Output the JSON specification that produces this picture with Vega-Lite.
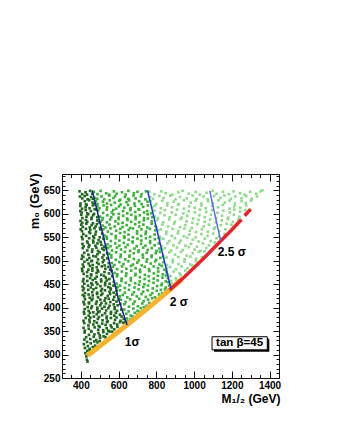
{
"$schema": "https://vega.github.io/schema/vega-lite/v6.json",
"width": 217, "height": 204,
"autosize": {"type": "none"},
"padding": {"left": 62, "top": 174, "right": 58, "bottom": 58},
"background": "white",
"config": {"view": {"stroke": null}, "font": "Liberation Sans"},
"resolve": {"axis": {"x": "independent", "y": "independent"}},
"datasets": {
"dark": [
{"x":393,"y":648},{"x":407,"y":642},{"x":425,"y":646},{"x":433,"y":641},{"x":449,"y":649},{"x":461,"y":643},
{"x":395,"y":637},{"x":407,"y":633},{"x":420,"y":638},{"x":436,"y":631},{"x":454,"y":636},{"x":463,"y":632},
{"x":398,"y":622},{"x":421,"y":627},{"x":427,"y":620},{"x":444,"y":629},{"x":462,"y":624},{"x":474,"y":621},
{"x":397,"y":617},{"x":406,"y":611},{"x":425,"y":614},{"x":431,"y":619},{"x":446,"y":612},{"x":464,"y":618},{"x":473,"y":610},
{"x":397,"y":606},{"x":404,"y":603},{"x":426,"y":608},{"x":434,"y":601},{"x":453,"y":606},{"x":470,"y":600},{"x":482,"y":609},
{"x":402,"y":598},{"x":408,"y":591},{"x":430,"y":594},{"x":439,"y":599},{"x":457,"y":592},{"x":465,"y":597},{"x":487,"y":593},
{"x":398,"y":585},{"x":407,"y":581},{"x":427,"y":587},{"x":434,"y":583},{"x":456,"y":589},{"x":464,"y":580},{"x":487,"y":586},{"x":498,"y":582},
{"x":402,"y":577},{"x":410,"y":572},{"x":429,"y":579},{"x":447,"y":571},{"x":457,"y":576},{"x":478,"y":573},{"x":485,"y":578},{"x":501,"y":570},
{"x":399,"y":567},{"x":406,"y":563},{"x":427,"y":568},{"x":444,"y":561},{"x":450,"y":566},{"x":472,"y":569},{"x":480,"y":562},{"x":503,"y":567},
{"x":405,"y":551},{"x":413,"y":557},{"x":428,"y":553},{"x":449,"y":559},{"x":466,"y":552},{"x":477,"y":556},{"x":500,"y":550},{"x":513,"y":558},
{"x":409,"y":546},{"x":433,"y":541},{"x":444,"y":548},{"x":465,"y":543},{"x":470,"y":549},{"x":494,"y":544},{"x":505,"y":540},{"x":520,"y":547},
{"x":408,"y":536},{"x":415,"y":531},{"x":437,"y":538},{"x":445,"y":533},{"x":466,"y":539},{"x":477,"y":532},{"x":488,"y":537},{"x":509,"y":534},{"x":524,"y":530},
{"x":410,"y":527},{"x":434,"y":522},{"x":441,"y":529},{"x":461,"y":524},{"x":482,"y":528},{"x":491,"y":521},{"x":513,"y":526},{"x":522,"y":523},{"x":534,"y":528},
{"x":407,"y":511},{"x":418,"y":517},{"x":440,"y":513},{"x":459,"y":519},{"x":466,"y":510},{"x":488,"y":514},{"x":499,"y":518},{"x":521,"y":512},{"x":539,"y":516},
{"x":404,"y":504},{"x":413,"y":508},{"x":434,"y":502},{"x":445,"y":506},{"x":459,"y":500},{"x":480,"y":509},{"x":491,"y":503},{"x":514,"y":507},{"x":522,"y":501},{"x":540,"y":505},
{"x":410,"y":492},{"x":419,"y":498},{"x":441,"y":494},{"x":455,"y":499},{"x":463,"y":491},{"x":486,"y":496},{"x":494,"y":493},{"x":516,"y":497},{"x":526,"y":490},{"x":548,"y":495},
{"x":406,"y":483},{"x":415,"y":487},{"x":440,"y":481},{"x":448,"y":489},{"x":461,"y":484},{"x":484,"y":486},{"x":489,"y":480},{"x":511,"y":488},{"x":530,"y":483},{"x":546,"y":487},{"x":555,"y":481},
{"x":408,"y":478},{"x":415,"y":472},{"x":433,"y":476},{"x":454,"y":471},{"x":461,"y":479},{"x":483,"y":474},{"x":492,"y":477},{"x":508,"y":470},{"x":525,"y":476},{"x":549,"y":473},{"x":563,"y":479},
{"x":414,"y":461},{"x":433,"y":467},{"x":449,"y":463},{"x":455,"y":469},{"x":476,"y":462},{"x":484,"y":466},{"x":507,"y":460},{"x":523,"y":468},{"x":532,"y":464},{"x":551,"y":461},{"x":566,"y":467},
{"x":411,"y":456},{"x":418,"y":451},{"x":434,"y":457},{"x":455,"y":452},{"x":463,"y":459},{"x":481,"y":454},{"x":488,"y":450},{"x":508,"y":456},{"x":529,"y":453},{"x":537,"y":458},{"x":553,"y":451},{"x":575,"y":455},
{"x":409,"y":445},{"x":416,"y":441},{"x":438,"y":447},{"x":453,"y":443},{"x":461,"y":449},{"x":481,"y":442},{"x":504,"y":446},{"x":512,"y":440},{"x":528,"y":448},{"x":545,"y":444},{"x":556,"y":442},{"x":573,"y":447},{"x":588,"y":443},
{"x":411,"y":437},{"x":422,"y":431},{"x":439,"y":438},{"x":460,"y":433},{"x":467,"y":439},{"x":486,"y":432},{"x":507,"y":436},{"x":514,"y":430},{"x":528,"y":437},{"x":552,"y":434},{"x":559,"y":439},{"x":574,"y":432},{"x":589,"y":436},
{"x":410,"y":427},{"x":418,"y":424},{"x":441,"y":428},{"x":447,"y":421},{"x":463,"y":426},{"x":486,"y":429},{"x":491,"y":422},{"x":508,"y":427},{"x":530,"y":420},{"x":542,"y":425},{"x":555,"y":429},{"x":577,"y":423},{"x":589,"y":428},
{"x":414,"y":412},{"x":422,"y":418},{"x":443,"y":411},{"x":457,"y":416},{"x":462,"y":419},{"x":484,"y":413},{"x":503,"y":417},{"x":509,"y":410},{"x":526,"y":415},{"x":548,"y":419},{"x":556,"y":412},{"x":572,"y":417},{"x":589,"y":413},{"x":601,"y":418},
{"x":418,"y":407},{"x":436,"y":401},{"x":443,"y":409},{"x":459,"y":403},{"x":480,"y":408},{"x":487,"y":400},{"x":503,"y":405},{"x":525,"y":402},{"x":533,"y":409},{"x":552,"y":404},{"x":574,"y":407},{"x":579,"y":401},{"x":595,"y":405},{"x":609,"y":408},
{"x":416,"y":391},{"x":420,"y":397},{"x":441,"y":393},{"x":455,"y":399},{"x":466,"y":390},{"x":487,"y":396},{"x":499,"y":392},{"x":512,"y":398},{"x":534,"y":394},{"x":546,"y":399},{"x":560,"y":391},{"x":579,"y":397},{"x":592,"y":393},{"x":614,"y":396},
{"x":418,"y":387},{"x":441,"y":383},{"x":448,"y":389},{"x":469,"y":381},{"x":484,"y":386},{"x":491,"y":390},{"x":513,"y":384},{"x":528,"y":388},{"x":537,"y":381},{"x":559,"y":387},{"x":577,"y":383},{"x":585,"y":389},{"x":607,"y":385},{"x":616,"y":381},
{"x":414,"y":372},{"x":426,"y":378},{"x":445,"y":374},{"x":450,"y":379},{"x":471,"y":371},{"x":490,"y":376},{"x":496,"y":380},{"x":515,"y":373},{"x":537,"y":377},{"x":542,"y":371},{"x":559,"y":378},{"x":581,"y":374},{"x":589,"y":379},{"x":610,"y":372},{"x":627,"y":376},
{"x":418,"y":367},{"x":440,"y":362},{"x":447,"y":369},{"x":466,"y":364},{"x":485,"y":368},{"x":494,"y":361},{"x":513,"y":366},{"x":531,"y":363},{"x":538,"y":369},{"x":558,"y":362},{"x":576,"y":367},{"x":592,"y":364},{"x":607,"y":369},{"x":625,"y":368},{"x":636,"y":370},
{"x":414,"y":357},{"x":421,"y":351},{"x":442,"y":355},{"x":455,"y":350},{"x":473,"y":358},{"x":492,"y":353},{"x":500,"y":359},{"x":518,"y":352},{"x":537,"y":356},{"x":545,"y":351},{"x":563,"y":358},{"x":577,"y":354},{"x":594,"y":359},
{"x":420,"y":347},{"x":443,"y":342},{"x":455,"y":349},{"x":472,"y":343},{"x":493,"y":346},{"x":500,"y":341},{"x":519,"y":348},{"x":538,"y":344},{"x":552,"y":349},{"x":566,"y":349},
{"x":419,"y":332},{"x":428,"y":337},{"x":450,"y":333},{"x":468,"y":338},{"x":481,"y":331},{"x":502,"y":336},{"x":520,"y":339},{"x":530,"y":337},
{"x":416,"y":322},{"x":433,"y":327},{"x":452,"y":324},{"x":471,"y":328},{"x":488,"y":326},{"x":500,"y":329},
{"x":421,"y":314},{"x":437,"y":318},{"x":447,"y":312},{"x":463,"y":316},{"x":476,"y":319},
{"x":424,"y":303},{"x":434,"y":308},{"x":446,"y":310},
{"x":429,"y":296},{"x":432,"y":289},{"x":435,"y":285}
],
"green": [
{"x":469,"y":647},{"x":488,"y":642},{"x":505,"y":649},{"x":534,"y":644},{"x":549,"y":641},{"x":575,"y":648},{"x":590,"y":643},{"x":618,"y":646},{"x":637,"y":641},{"x":652,"y":649},{"x":681,"y":644},{"x":700,"y":647},{"x":722,"y":642},{"x":745,"y":648},
{"x":474,"y":634},{"x":487,"y":632},{"x":510,"y":637},{"x":524,"y":631},{"x":551,"y":639},{"x":573,"y":634},{"x":582,"y":638},{"x":609,"y":630},{"x":634,"y":636},{"x":652,"y":632},{"x":679,"y":639},{"x":690,"y":633},{"x":718,"y":637},{"x":742,"y":631},
{"x":480,"y":627},{"x":488,"y":621},{"x":517,"y":626},{"x":538,"y":622},{"x":553,"y":629},{"x":580,"y":624},{"x":604,"y":628},{"x":611,"y":620},{"x":642,"y":625},{"x":656,"y":629},{"x":684,"y":622},{"x":709,"y":627},{"x":722,"y":621},{"x":753,"y":626},
{"x":488,"y":616},{"x":499,"y":612},{"x":520,"y":618},{"x":539,"y":614},{"x":560,"y":619},{"x":587,"y":611},{"x":602,"y":616},{"x":630,"y":613},{"x":650,"y":619},{"x":664,"y":612},{"x":687,"y":617},{"x":706,"y":610},{"x":730,"y":615},{"x":755,"y":618},
{"x":492,"y":607},{"x":518,"y":602},{"x":537,"y":609},{"x":564,"y":603},{"x":572,"y":608},{"x":601,"y":600},{"x":624,"y":606},{"x":646,"y":601},{"x":662,"y":608},{"x":688,"y":604},{"x":709,"y":609},{"x":735,"y":603},{"x":751,"y":606},{"x":772,"y":601},
{"x":502,"y":594},{"x":516,"y":591},{"x":540,"y":597},{"x":561,"y":593},{"x":572,"y":599},{"x":600,"y":592},{"x":624,"y":596},{"x":645,"y":590},{"x":667,"y":598},{"x":690,"y":594},{"x":712,"y":597},{"x":735,"y":591},{"x":754,"y":599},{"x":779,"y":593},
{"x":504,"y":583},{"x":513,"y":587},{"x":538,"y":582},{"x":555,"y":588},{"x":583,"y":584},{"x":600,"y":589},{"x":621,"y":581},{"x":647,"y":587},{"x":666,"y":583},{"x":690,"y":589},{"x":709,"y":582},{"x":734,"y":586},{"x":755,"y":590},{"x":776,"y":584},
{"x":516,"y":575},{"x":530,"y":571},{"x":552,"y":577},{"x":579,"y":573},{"x":598,"y":579},{"x":621,"y":572},{"x":643,"y":576},{"x":661,"y":570},{"x":688,"y":578},{"x":709,"y":573},{"x":731,"y":577},{"x":752,"y":571},{"x":775,"y":579},{"x":795,"y":574},
{"x":519,"y":567},{"x":543,"y":562},{"x":557,"y":569},{"x":587,"y":564},{"x":609,"y":568},{"x":632,"y":561},{"x":653,"y":566},{"x":676,"y":569},{"x":698,"y":563},{"x":721,"y":567},{"x":745,"y":562},{"x":766,"y":568},{"x":795,"y":565},
{"x":525,"y":554},{"x":537,"y":551},{"x":562,"y":557},{"x":585,"y":553},{"x":608,"y":559},{"x":629,"y":552},{"x":652,"y":556},{"x":676,"y":550},{"x":698,"y":558},{"x":719,"y":553},{"x":743,"y":557},{"x":767,"y":551},{"x":791,"y":556},
{"x":538,"y":547},{"x":559,"y":542},{"x":585,"y":548},{"x":604,"y":543},{"x":631,"y":549},{"x":653,"y":545},{"x":674,"y":541},{"x":700,"y":547},{"x":720,"y":543},{"x":745,"y":548},{"x":767,"y":542},{"x":792,"y":546},{"x":812,"y":549},
{"x":541,"y":535},{"x":557,"y":531},{"x":582,"y":537},{"x":604,"y":532},{"x":628,"y":538},{"x":649,"y":534},{"x":675,"y":539},{"x":696,"y":531},{"x":719,"y":536},{"x":742,"y":532},{"x":767,"y":538},{"x":791,"y":533},{"x":813,"y":537},
{"x":544,"y":527},{"x":565,"y":522},{"x":591,"y":528},{"x":613,"y":524},{"x":637,"y":529},{"x":661,"y":521},{"x":684,"y":526},{"x":706,"y":522},{"x":730,"y":528},{"x":754,"y":523},{"x":776,"y":527},{"x":801,"y":521},{"x":817,"y":526},
{"x":550,"y":515},{"x":561,"y":512},{"x":587,"y":518},{"x":612,"y":513},{"x":633,"y":519},{"x":659,"y":511},{"x":680,"y":516},{"x":705,"y":519},{"x":728,"y":513},{"x":749,"y":517},{"x":775,"y":511},{"x":797,"y":516},{"x":819,"y":519},
{"x":561,"y":507},{"x":585,"y":502},{"x":610,"y":508},{"x":635,"y":503},{"x":657,"y":509},{"x":681,"y":504},{"x":707,"y":501},{"x":729,"y":507},{"x":751,"y":503},{"x":775,"y":508},{"x":799,"y":502},{"x":821,"y":506},{"x":835,"y":509},
{"x":564,"y":495},{"x":578,"y":491},{"x":604,"y":497},{"x":626,"y":493},{"x":652,"y":499},{"x":676,"y":492},{"x":699,"y":496},{"x":723,"y":490},{"x":748,"y":498},{"x":770,"y":494},{"x":794,"y":499},{"x":816,"y":492},{"x":838,"y":497},
{"x":569,"y":487},{"x":592,"y":482},{"x":618,"y":488},{"x":641,"y":483},{"x":666,"y":489},{"x":690,"y":484},{"x":713,"y":481},{"x":739,"y":487},{"x":761,"y":482},{"x":786,"y":488},{"x":809,"y":484},{"x":829,"y":489},{"x":843,"y":481},
{"x":578,"y":474},{"x":593,"y":471},{"x":617,"y":477},{"x":641,"y":473},{"x":667,"y":479},{"x":690,"y":472},{"x":715,"y":476},{"x":739,"y":470},{"x":763,"y":478},{"x":787,"y":473},{"x":810,"y":477},{"x":834,"y":471},{"x":854,"y":476},
{"x":591,"y":467},{"x":616,"y":462},{"x":639,"y":468},{"x":665,"y":463},{"x":688,"y":469},{"x":713,"y":465},{"x":738,"y":461},{"x":760,"y":467},{"x":786,"y":462},{"x":808,"y":468},{"x":832,"y":464},{"x":851,"y":469},{"x":861,"y":463},
{"x":590,"y":451},{"x":615,"y":457},{"x":638,"y":453},{"x":665,"y":458},{"x":688,"y":452},{"x":712,"y":456},{"x":737,"y":450},{"x":761,"y":457},{"x":785,"y":453},{"x":807,"y":458},{"x":830,"y":451},{"x":850,"y":456},{"x":864,"y":454},
{"x":596,"y":444},{"x":608,"y":447},{"x":633,"y":442},{"x":657,"y":448},{"x":684,"y":443},{"x":708,"y":449},{"x":731,"y":444},{"x":756,"y":447},{"x":781,"y":441},{"x":804,"y":446},{"x":827,"y":448},{"x":850,"y":443},{"x":869,"y":447},
{"x":607,"y":437},{"x":633,"y":432},{"x":655,"y":438},{"x":681,"y":433},{"x":706,"y":439},{"x":730,"y":434},{"x":754,"y":437},{"x":779,"y":431},{"x":802,"y":436},{"x":824,"y":438},{"x":846,"y":439},
{"x":606,"y":424},{"x":622,"y":427},{"x":646,"y":422},{"x":673,"y":428},{"x":696,"y":424},{"x":721,"y":429},{"x":744,"y":423},{"x":769,"y":427},{"x":793,"y":422},{"x":814,"y":428},{"x":831,"y":431},
{"x":612,"y":417},{"x":637,"y":412},{"x":661,"y":418},{"x":685,"y":413},{"x":709,"y":419},{"x":733,"y":414},{"x":756,"y":417},{"x":778,"y":420},
{"x":631,"y":407},{"x":655,"y":402},{"x":678,"y":408},{"x":702,"y":403},{"x":726,"y":409},{"x":748,"y":404},{"x":763,"y":410},
{"x":630,"y":396},{"x":653,"y":392},{"x":678,"y":398},{"x":700,"y":393},{"x":718,"y":399},{"x":734,"y":401},
{"x":641,"y":387},{"x":664,"y":383},{"x":686,"y":389},{"x":701,"y":386},{"x":712,"y":391},
{"x":645,"y":377},{"x":663,"y":375},{"x":674,"y":381},
{"x":644,"y":368},{"x":652,"y":371}
],
"light": [
{"x":763,"y":647},{"x":790,"y":642},{"x":826,"y":648},{"x":849,"y":644},{"x":884,"y":641},{"x":917,"y":646},{"x":939,"y":649},{"x":972,"y":643},{"x":1008,"y":647},{"x":1030,"y":641},{"x":1066,"y":645},{"x":1098,"y":649},{"x":1119,"y":643},{"x":1153,"y":647},{"x":1184,"y":642},{"x":1209,"y":648},{"x":1244,"y":644},{"x":1268,"y":641},{"x":1297,"y":647},{"x":1330,"y":643},{"x":1352,"y":648},{"x":1362,"y":650},
{"x":767,"y":636},{"x":783,"y":632},{"x":816,"y":638},{"x":838,"y":634},{"x":874,"y":639},{"x":902,"y":631},{"x":925,"y":636},{"x":961,"y":633},{"x":992,"y":639},{"x":1013,"y":632},{"x":1050,"y":637},{"x":1072,"y":631},{"x":1106,"y":638},{"x":1140,"y":634},{"x":1161,"y":639},{"x":1195,"y":632},{"x":1218,"y":637},{"x":1251,"y":633},{"x":1277,"y":638},{"x":1306,"y":632},{"x":1333,"y":637},
{"x":770,"y":627},{"x":799,"y":621},{"x":832,"y":628},{"x":859,"y":623},{"x":892,"y":626},{"x":919,"y":621},{"x":946,"y":629},{"x":982,"y":624},{"x":1008,"y":628},{"x":1039,"y":622},{"x":1074,"y":627},{"x":1098,"y":623},{"x":1129,"y":629},{"x":1163,"y":624},{"x":1188,"y":628},{"x":1217,"y":622},{"x":1252,"y":627},{"x":1274,"y":623},{"x":1302,"y":628},
{"x":778,"y":614},{"x":792,"y":617},{"x":824,"y":612},{"x":857,"y":618},{"x":883,"y":614},{"x":915,"y":619},{"x":946,"y":611},{"x":974,"y":616},{"x":1003,"y":613},{"x":1038,"y":618},{"x":1062,"y":612},{"x":1096,"y":617},{"x":1127,"y":614},{"x":1152,"y":619},{"x":1188,"y":611},{"x":1213,"y":616},{"x":1245,"y":613},{"x":1276,"y":618},
{"x":789,"y":607},{"x":821,"y":602},{"x":845,"y":608},{"x":882,"y":603},{"x":909,"y":609},{"x":943,"y":601},{"x":972,"y":606},{"x":1004,"y":603},{"x":1031,"y":609},{"x":1064,"y":604},{"x":1095,"y":608},{"x":1124,"y":602},{"x":1155,"y":607},{"x":1189,"y":603},{"x":1213,"y":609},{"x":1244,"y":605},{"x":1272,"y":608},
{"x":792,"y":594},{"x":809,"y":591},{"x":843,"y":597},{"x":871,"y":593},{"x":902,"y":598},{"x":935,"y":592},{"x":964,"y":596},{"x":995,"y":590},{"x":1028,"y":597},{"x":1056,"y":593},{"x":1089,"y":598},{"x":1117,"y":591},{"x":1148,"y":596},{"x":1181,"y":592},{"x":1211,"y":598},{"x":1240,"y":594},
{"x":804,"y":587},{"x":836,"y":582},{"x":868,"y":588},{"x":898,"y":583},{"x":929,"y":589},{"x":960,"y":584},{"x":991,"y":581},{"x":1023,"y":587},{"x":1056,"y":583},{"x":1085,"y":588},{"x":1115,"y":582},{"x":1147,"y":586},{"x":1178,"y":589},{"x":1206,"y":583},{"x":1235,"y":588},
{"x":801,"y":571},{"x":832,"y":577},{"x":862,"y":573},{"x":894,"y":579},{"x":925,"y":572},{"x":954,"y":576},{"x":987,"y":570},{"x":1017,"y":578},{"x":1051,"y":573},{"x":1079,"y":577},{"x":1111,"y":571},{"x":1142,"y":576},{"x":1173,"y":579},{"x":1198,"y":577},
{"x":810,"y":565},{"x":824,"y":567},{"x":853,"y":562},{"x":886,"y":568},{"x":917,"y":563},{"x":949,"y":569},{"x":978,"y":564},{"x":1010,"y":561},{"x":1041,"y":567},{"x":1073,"y":562},{"x":1105,"y":568},{"x":1134,"y":563},{"x":1166,"y":567},
{"x":820,"y":551},{"x":852,"y":557},{"x":882,"y":553},{"x":914,"y":558},{"x":946,"y":552},{"x":975,"y":556},{"x":1008,"y":550},{"x":1039,"y":557},{"x":1071,"y":553},{"x":1101,"y":558},{"x":1133,"y":552},{"x":1162,"y":557},
{"x":821,"y":546},{"x":837,"y":547},{"x":869,"y":542},{"x":899,"y":548},{"x":930,"y":543},{"x":963,"y":549},{"x":993,"y":545},{"x":1024,"y":541},{"x":1057,"y":547},{"x":1088,"y":542},{"x":1119,"y":548},
{"x":828,"y":531},{"x":859,"y":537},{"x":890,"y":533},{"x":922,"y":538},{"x":954,"y":532},{"x":984,"y":536},{"x":1015,"y":530},{"x":1047,"y":537},{"x":1079,"y":533},{"x":1109,"y":539},
{"x":831,"y":524},{"x":846,"y":527},{"x":878,"y":522},{"x":909,"y":528},{"x":940,"y":523},{"x":972,"y":529},{"x":1003,"y":524},{"x":1034,"y":521},{"x":1065,"y":527},
{"x":836,"y":512},{"x":868,"y":518},{"x":899,"y":513},{"x":931,"y":519},{"x":961,"y":511},{"x":993,"y":516},{"x":1025,"y":519},{"x":1055,"y":520},
{"x":841,"y":506},{"x":855,"y":507},{"x":887,"y":502},{"x":917,"y":508},{"x":950,"y":503},{"x":980,"y":509},{"x":1011,"y":504},{"x":1042,"y":508},
{"x":856,"y":491},{"x":887,"y":497},{"x":917,"y":493},{"x":949,"y":498},{"x":980,"y":492},{"x":1010,"y":499},
{"x":857,"y":484},{"x":873,"y":487},{"x":904,"y":482},{"x":934,"y":488},{"x":965,"y":484},{"x":990,"y":490},
{"x":861,"y":471},{"x":892,"y":477},{"x":923,"y":473},{"x":953,"y":479},
{"x":874,"y":467},{"x":903,"y":463},{"x":929,"y":469},
{"x":879,"y":457},{"x":905,"y":460},
{"x":881,"y":451}
],
"orange": [
{"x":436,"y":298},{"x":500,"y":318},{"x":600,"y":349},{"x":700,"y":381},{"x":800,"y":414},{"x":877,"y":440},{"x":935,"y":461}
],
"red": [
{"s":"a","x":870,"y":437.6},{"s":"a","x":950,"y":466},{"s":"a","x":1050,"y":505},{"s":"a","x":1141,"y":542},{"s":"a","x":1200,"y":566},{"s":"a","x":1251,"y":588},
{"s":"b","x":1268,"y":596},{"s":"b","x":1300,"y":610}
],
"sigma": [
{"s":"1","x":460,"y":650},{"s":"1","x":598,"y":420},{"s":"1","x":645,"y":363},
{"s":"2","x":753,"y":650},{"s":"2","x":877,"y":441},
{"s":"2.5","x":1083,"y":649},{"s":"2.5","x":1141,"y":542}
],
"labels": [
{"x":633,"y":327,"t":"1σ"},{"x":871,"y":413,"t":"2 σ"},{"x":1125,"y":519,"t":"2.5 σ"}
],
"box": [
{"x":1095,"x2":1388,"y":310,"y2":338,"xc":1241,"yc":324,"t":"tan β=45"}
]
},
"layer": [
{"data": {"name": "dark"},
 "mark": {"type": "square", "size": 7, "color": "#1f6a1d", "opacity": 1, "strokeWidth": 0},
 "encoding": {
  "x": {"field": "x", "type": "quantitative", "scale": {"domain": [300, 1450], "nice": false, "zero": false},
   "axis": {"orient": "bottom", "values": [400, 600, 800, 1000, 1200, 1400], "format": "d", "grid": false, "domain": true, "domainColor": "#111", "domainWidth": 1, "ticks": true, "tickSize": -7, "tickColor": "#111", "tickWidth": 1, "labels": true, "labelPadding": 9, "labelFont": "Liberation Sans", "labelFontSize": 10, "labelFontWeight": "bold", "labelColor": "#000", "labelFlush": false, "labelOverlap": false, "labelBaseline": "top", "title": "M₁/₂ (GeV)", "titleFont": "Liberation Sans", "titleFontSize": 12, "titleFontWeight": "bold", "titleColor": "#000", "titleX": 218, "titleY": 24, "titleAlign": "right", "titleBaseline": "alphabetic", "titleAnchor": "end"}},
  "y": {"field": "y", "type": "quantitative", "scale": {"domain": [250, 685], "nice": false, "zero": false},
   "axis": {"orient": "left", "values": [250, 300, 350, 400, 450, 500, 550, 600, 650], "format": "d", "grid": false, "domain": true, "domainColor": "#111", "domainWidth": 1, "ticks": true, "tickSize": -6, "tickColor": "#111", "tickWidth": 1, "labels": true, "labelPadding": 8, "labelFont": "Liberation Sans", "labelFontSize": 10, "labelFontWeight": "bold", "labelColor": "#000", "labelFlush": false, "labelOverlap": false, "labelAlign": "right", "labelBaseline": "middle", "title": "m₀ (GeV)", "titleFont": "Liberation Sans", "titleFontSize": 13, "titleFontWeight": "bold", "titleColor": "#000", "titleAngle": -90, "titleX": -24, "titleY": -1, "titleAlign": "right", "titleBaseline": "alphabetic", "titleAnchor": "end"}}
 }},
{"data": {"name": "green"},
 "mark": {"type": "square", "size": 7, "color": "#3cb43a", "opacity": 1, "strokeWidth": 0},
 "encoding": {
  "x": {"field": "x", "type": "quantitative", "scale": {"domain": [300, 1450], "nice": false, "zero": false},
   "axis": {"orient": "bottom", "values": [300,350,400,450,500,550,600,650,700,750,800,850,900,950,1000,1050,1100,1150,1200,1250,1300,1350,1400,1450], "grid": false, "domain": false, "labels": false, "ticks": true, "tickSize": -3.5, "tickColor": "#111", "tickWidth": 1, "title": null}},
  "y": {"field": "y", "type": "quantitative", "scale": {"domain": [250, 685], "nice": false, "zero": false},
   "axis": {"orient": "left", "values": [250,260,270,280,290,300,310,320,330,340,350,360,370,380,390,400,410,420,430,440,450,460,470,480,490,500,510,520,530,540,550,560,570,580,590,600,610,620,630,640,650,660,670,680], "grid": false, "domain": false, "labels": false, "ticks": true, "tickSize": -3, "tickColor": "#111", "tickWidth": 1, "title": null}}
 }},
{"data": {"name": "light"},
 "mark": {"type": "square", "size": 7, "color": "#8fdc8a", "opacity": 1, "strokeWidth": 0},
 "encoding": {
  "x": {"field": "x", "type": "quantitative", "scale": {"domain": [300, 1450], "nice": false, "zero": false},
   "axis": {"orient": "top", "values": [400, 600, 800, 1000, 1200, 1400], "grid": false, "domain": true, "domainColor": "#111", "domainWidth": 1, "labels": false, "ticks": true, "tickSize": -7, "tickColor": "#111", "tickWidth": 1, "title": null}},
  "y": {"field": "y", "type": "quantitative", "scale": {"domain": [250, 685], "nice": false, "zero": false},
   "axis": {"orient": "right", "values": [250, 300, 350, 400, 450, 500, 550, 600, 650], "grid": false, "domain": true, "domainColor": "#111", "domainWidth": 1, "labels": false, "ticks": true, "tickSize": -6, "tickColor": "#111", "tickWidth": 1, "title": null}}
 }},
{"data": {"name": "orange"},
 "mark": {"type": "line", "color": "#f8b22c", "strokeWidth": 5, "strokeCap": "butt"},
 "encoding": {
  "x": {"field": "x", "type": "quantitative", "scale": {"domain": [300, 1450], "nice": false, "zero": false},
   "axis": {"orient": "top", "values": [300,350,400,450,500,550,600,650,700,750,800,850,900,950,1000,1050,1100,1150,1200,1250,1300,1350,1400,1450], "grid": false, "domain": false, "labels": false, "ticks": true, "tickSize": -3.5, "tickColor": "#111", "tickWidth": 1, "title": null}},
  "y": {"field": "y", "type": "quantitative", "scale": {"domain": [250, 685], "nice": false, "zero": false},
   "axis": {"orient": "right", "values": [250,260,270,280,290,300,310,320,330,340,350,360,370,380,390,400,410,420,430,440,450,460,470,480,490,500,510,520,530,540,550,560,570,580,590,600,610,620,630,640,650,660,670,680], "grid": false, "domain": false, "labels": false, "ticks": true, "tickSize": -3, "tickColor": "#111", "tickWidth": 1, "title": null}}
 }},
{"data": {"name": "red"},
 "mark": {"type": "line", "color": "#e8232a", "strokeWidth": 3.5, "strokeCap": "butt"},
 "encoding": {
  "x": {"field": "x", "type": "quantitative", "scale": {"domain": [300, 1450], "nice": false, "zero": false}, "axis": null},
  "y": {"field": "y", "type": "quantitative", "scale": {"domain": [250, 685], "nice": false, "zero": false}, "axis": null},
  "detail": {"field": "s", "type": "nominal"}
 }},
{"data": {"name": "sigma"},
 "mark": {"type": "line", "strokeWidth": 1.5},
 "encoding": {
  "x": {"field": "x", "type": "quantitative", "scale": {"domain": [300, 1450], "nice": false, "zero": false}, "axis": null},
  "y": {"field": "y", "type": "quantitative", "scale": {"domain": [250, 685], "nice": false, "zero": false}, "axis": null},
  "color": {"field": "s", "type": "nominal", "scale": {"domain": ["1", "2", "2.5"], "range": ["#1a1f9c", "#1f35e6", "#5b6ef2"]}, "legend": null}
 }},
{"data": {"name": "labels"},
 "mark": {"type": "text", "align": "left", "baseline": "middle", "font": "Liberation Sans", "fontSize": 12, "fontWeight": "bold", "color": "#000"},
 "encoding": {
  "x": {"field": "x", "type": "quantitative", "scale": {"domain": [300, 1450], "nice": false, "zero": false}, "axis": null},
  "y": {"field": "y", "type": "quantitative", "scale": {"domain": [250, 685], "nice": false, "zero": false}, "axis": null},
  "text": {"field": "t"}
 }},
{"data": {"name": "box"},
 "mark": {"type": "rect", "color": "#000", "xOffset": 2, "x2Offset": 2, "yOffset": 2, "y2Offset": 2},
 "encoding": {
  "x": {"field": "x", "type": "quantitative", "scale": {"domain": [300, 1450], "nice": false, "zero": false}, "axis": null},
  "x2": {"field": "x2"},
  "y": {"field": "y", "type": "quantitative", "scale": {"domain": [250, 685], "nice": false, "zero": false}, "axis": null},
  "y2": {"field": "y2"}
 }},
{"data": {"name": "box"},
 "mark": {"type": "rect", "fill": "#f7f7f7", "stroke": "#000", "strokeWidth": 1},
 "encoding": {
  "x": {"field": "x", "type": "quantitative", "scale": {"domain": [300, 1450], "nice": false, "zero": false}, "axis": null},
  "x2": {"field": "x2"},
  "y": {"field": "y", "type": "quantitative", "scale": {"domain": [250, 685], "nice": false, "zero": false}, "axis": null},
  "y2": {"field": "y2"}
 }},
{"data": {"name": "box"},
 "mark": {"type": "text", "align": "center", "baseline": "middle", "font": "Liberation Sans", "fontSize": 11.5, "fontWeight": "bold", "color": "#000"},
 "encoding": {
  "x": {"field": "xc", "type": "quantitative", "scale": {"domain": [300, 1450], "nice": false, "zero": false}, "axis": null},
  "y": {"field": "yc", "type": "quantitative", "scale": {"domain": [250, 685], "nice": false, "zero": false}, "axis": null},
  "text": {"field": "t"}
 }}
]
}
